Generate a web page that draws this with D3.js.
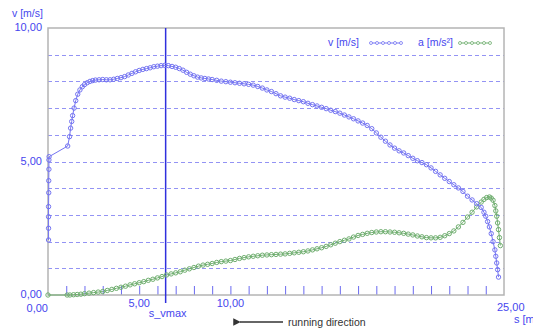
<!DOCTYPE html>
<html>
<head>
<meta charset="utf-8">
<script src="https://cdn.jsdelivr.net/npm/d3@7"></script>
<style>
  body { margin: 0; background: #fff; }
  svg { display: block; font-family: "Liberation Sans", Arial, sans-serif; }
</style>
</head>
<body>
<svg id="chart" width="533" height="331"></svg>
<script>
// v [m/s] over s [m]
const vData = [
    [0.03, 2.06], [0.03, 2.5], [0.03, 2.93], [0.03, 3.31], [0.04, 3.83], [0.04, 4.28], [0.05, 4.71],
    [0.05, 5.06], [0.06, 5.18], [1.08, 5.58], [1.18, 5.93], [1.24, 6.25], [1.3, 6.5], [1.35, 6.72],
    [1.43, 7.0], [1.52, 7.28], [1.63, 7.52], [1.75, 7.68], [1.88, 7.8], [2.0, 7.88], [2.15, 7.95],
    [2.3, 8.0], [2.45, 8.03], [2.6, 8.05], [2.8, 8.06], [3.0, 8.07], [3.2, 8.06], [3.4, 8.06],
    [3.6, 8.08], [3.8, 8.11], [4.0, 8.14], [4.2, 8.18], [4.4, 8.24], [4.6, 8.3], [4.8, 8.36],
    [5.0, 8.41], [5.2, 8.45], [5.4, 8.48], [5.6, 8.51], [5.8, 8.55], [6.0, 8.57], [6.2, 8.59],
    [6.4, 8.6], [6.6, 8.59], [6.8, 8.56], [7.0, 8.53], [7.2, 8.48], [7.4, 8.42], [7.6, 8.34],
    [7.8, 8.27], [8.0, 8.21], [8.2, 8.16], [8.4, 8.13], [8.6, 8.11], [8.8, 8.09], [9.0, 8.07],
    [9.25, 8.04], [9.5, 8.01], [9.75, 7.99], [10.0, 7.97], [10.25, 7.95], [10.5, 7.93], [10.75, 7.91],
    [11.0, 7.89], [11.25, 7.86], [11.5, 7.81], [11.75, 7.75], [12.0, 7.68], [12.25, 7.62], [12.5, 7.54],
    [12.75, 7.46], [13.0, 7.41], [13.25, 7.37], [13.5, 7.32], [13.75, 7.28], [14.0, 7.24], [14.25, 7.18],
    [14.5, 7.13], [14.75, 7.08], [15.0, 7.03], [15.25, 6.98], [15.5, 6.92], [15.75, 6.87], [16.0, 6.81],
    [16.25, 6.74], [16.5, 6.67], [16.75, 6.6], [17.0, 6.52], [17.25, 6.44], [17.5, 6.35], [17.75, 6.23],
    [18.0, 6.07], [18.25, 5.91], [18.5, 5.76], [18.75, 5.62], [19.0, 5.5], [19.25, 5.4], [19.5, 5.32],
    [19.75, 5.22], [20.0, 5.12], [20.25, 5.03], [20.5, 4.96], [20.75, 4.88], [21.0, 4.76], [21.25, 4.63],
    [21.5, 4.5], [21.75, 4.37], [22.0, 4.25], [22.25, 4.13], [22.5, 4.01], [22.75, 3.88], [23.0, 3.7],
    [23.25, 3.56], [23.5, 3.42], [23.75, 3.28], [23.9, 3.1], [24.0, 2.95], [24.1, 2.75], [24.2, 2.55],
    [24.3, 2.3], [24.4, 2.0], [24.5, 1.69], [24.55, 1.45], [24.6, 1.2], [24.65, 0.95], [24.7, 0.67]
];

// a [m/s²] over s [m]
const aData = [
    [0, 0], [1.05, 0], [1.2, 0], [1.4, 0.01], [1.6, 0.02], [1.8, 0.03], [2.0, 0.05], [2.25, 0.07],
    [2.5, 0.09], [2.75, 0.11], [3.0, 0.13], [3.25, 0.17], [3.5, 0.21], [3.75, 0.25], [4.0, 0.29],
    [4.25, 0.33], [4.5, 0.38], [4.75, 0.42], [5.0, 0.46], [5.25, 0.5], [5.5, 0.55], [5.75, 0.59],
    [6.0, 0.64], [6.25, 0.69], [6.5, 0.75], [6.75, 0.79], [7.0, 0.83], [7.25, 0.87], [7.5, 0.93],
    [7.75, 0.98], [8.0, 1.03], [8.25, 1.08], [8.5, 1.12], [8.75, 1.15], [9.0, 1.18], [9.25, 1.22],
    [9.5, 1.25], [9.75, 1.27], [10.0, 1.29], [10.25, 1.33], [10.5, 1.37], [10.75, 1.4], [11.0, 1.43],
    [11.25, 1.45], [11.5, 1.47], [11.75, 1.49], [12.0, 1.5], [12.25, 1.51], [12.5, 1.52], [12.75, 1.53],
    [13.0, 1.54], [13.25, 1.56], [13.5, 1.58], [13.75, 1.6], [14.0, 1.62], [14.25, 1.65], [14.5, 1.69],
    [14.75, 1.73], [15.0, 1.77], [15.25, 1.82], [15.5, 1.88], [15.75, 1.94], [16.0, 2.0], [16.25, 2.05],
    [16.5, 2.1], [16.75, 2.17], [17.0, 2.23], [17.25, 2.27], [17.5, 2.31], [17.75, 2.34], [18.0, 2.36],
    [18.25, 2.37], [18.5, 2.37], [18.75, 2.36], [19.0, 2.35], [19.25, 2.33], [19.5, 2.31], [19.75, 2.28],
    [20.0, 2.25], [20.25, 2.21], [20.5, 2.18], [20.75, 2.15], [21.0, 2.14], [21.25, 2.14], [21.5, 2.16],
    [21.75, 2.22], [22.0, 2.3], [22.25, 2.4], [22.5, 2.55], [22.75, 2.72], [23.0, 2.92], [23.25, 3.1],
    [23.5, 3.3], [23.75, 3.48], [23.9, 3.58], [24.05, 3.65], [24.2, 3.67], [24.3, 3.63], [24.4, 3.55],
    [24.5, 3.35], [24.55, 3.15], [24.6, 2.95], [24.65, 2.7], [24.7, 2.45], [24.75, 2.15], [24.8, 1.85]
];

const sVmax = 6.45;
const gridValues = [1, 2, 3, 4, 5, 6, 7, 8, 9];
const yLabels = [0, 5, 10];
const xLabels = [5, 10];
const minorTicks = d3.range(1, 25);

const blue = '#4646ee';
const vColor = '#7474f2';
const aColor = '#6fae6f';
const frameColor = '#b4b4b4';

const svg = d3.select('#chart');
const plotLeft = 48, plotRight = 504, plotTop = 28, plotBottom = 295;

const x = d3.scaleLinear().domain([0, 25]).range([plotLeft, plotRight]);
const y = d3.scaleLinear().domain([0, 10]).range([plotBottom, plotTop]);
const fmt = (d) => d3.format('.2f')(d).replace('.', ',');

// dashed grid, snapped to the pixel grid so every line looks the same
svg.append('g')
    .selectAll('line')
    .data(gridValues)
    .join('line')
    .attr('x1', plotLeft).attr('x2', plotRight)
    .attr('y1', (d) => Math.round(y(d)) + 0.5).attr('y2', (d) => Math.round(y(d)) + 0.5)
    .attr('stroke', '#9393f4')
    .attr('stroke-dasharray', '4,3')
    .attr('stroke-width', 1);

// minor ticks pointing up from the bottom axis
const tickAxis = svg.append('g')
    .attr('transform', `translate(0,${plotBottom})`)
    .call(d3.axisBottom(x).tickValues(minorTicks).tickSizeInner(-9).tickSizeOuter(0).tickFormat(''));
tickAxis.select('.domain').remove();
tickAxis.selectAll('.tick line').attr('stroke', '#6a6af0');

// frame
svg.append('rect')
    .attr('x', plotLeft).attr('y', plotTop)
    .attr('width', plotRight - plotLeft).attr('height', plotBottom - plotTop)
    .attr('fill', 'none')
    .attr('stroke', frameColor)
    .attr('stroke-width', 1.5);

// s_vmax marker
svg.append('line')
    .attr('x1', x(sVmax)).attr('x2', x(sVmax))
    .attr('y1', plotTop).attr('y2', plotBottom + 8)
    .attr('stroke', '#2f2fdd')
    .attr('stroke-width', 1.5);

const line = d3.line().x((d) => x(d[0])).y((d) => y(d[1]));

function drawSeries(data, color) {
    svg.append('path')
        .datum(data)
        .attr('fill', 'none')
        .attr('stroke', color)
        .attr('stroke-width', 1)
        .attr('d', line);
    svg.append('g')
        .selectAll('circle')
        .data(data)
        .join('circle')
        .attr('cx', (d) => x(d[0]))
        .attr('cy', (d) => y(d[1]))
        .attr('r', 2.2)
        .attr('fill', 'none')
        .attr('stroke', color)
        .attr('stroke-width', 1);
}

drawSeries(aData, aColor);
drawSeries(vData, vColor);

// y labels
svg.append('g')
    .selectAll('text')
    .data(yLabels)
    .join('text')
    .attr('x', 42)
    .attr('y', (d) => y(d) + 3)
    .attr('text-anchor', 'end')
    .attr('font-size', 11)
    .attr('fill', blue)
    .text(fmt);

svg.append('text')
    .attr('x', 12).attr('y', 17)
    .attr('font-size', 10.5)
    .attr('fill', blue)
    .text('v [m/s]');

// x labels
svg.append('g')
    .selectAll('text')
    .data(xLabels)
    .join('text')
    .attr('x', (d) => x(d))
    .attr('y', 307)
    .attr('text-anchor', 'middle')
    .attr('font-size', 11)
    .attr('fill', blue)
    .text(fmt);

svg.append('text')
    .attr('x', x(0)).attr('y', 312)
    .attr('text-anchor', 'end')
    .attr('font-size', 11)
    .attr('fill', blue)
    .text(fmt(0));

svg.append('text')
    .attr('x', x(25) - 7).attr('y', 311)
    .attr('font-size', 11)
    .attr('fill', blue)
    .text(fmt(25));

// cut at the right edge, as in the reference
svg.append('text')
    .attr('x', x(25) + 10).attr('y', 323)
    .attr('font-size', 11)
    .attr('fill', blue)
    .text('s [m]');

svg.append('text')
    .attr('x', x(sVmax) + 2).attr('y', 317)
    .attr('text-anchor', 'middle')
    .attr('font-size', 11)
    .attr('fill', blue)
    .text('s_vmax');

// legend
const legend = [
    { label: 'v [m/s]', color: vColor, tx: 328, mx: 371 },
    { label: 'a [m/s²]', color: aColor, tx: 418, mx: 460 }
];
legend.forEach((l) => {
    svg.append('text')
        .attr('x', l.tx).attr('y', 46)
        .attr('font-size', 10.5)
        .attr('fill', blue)
        .text(l.label);
    svg.append('line')
        .attr('x1', l.mx).attr('x2', l.mx + 30)
        .attr('y1', 43).attr('y2', 43)
        .attr('stroke', l.color);
    svg.append('g')
        .selectAll('circle')
        .data(d3.range(6))
        .join('circle')
        .attr('cx', (i) => l.mx + i * 6)
        .attr('cy', 43)
        .attr('r', 1.5)
        .attr('fill', '#fff')
        .attr('stroke', l.color)
        .attr('stroke-width', 0.8);
});

// running direction arrow
svg.append('defs').append('marker')
    .attr('id', 'arrow')
    .attr('viewBox', '0 0 10 10')
    .attr('refX', 1).attr('refY', 5)
    .attr('markerWidth', 6).attr('markerHeight', 5)
    .attr('orient', 'auto')
    .append('path')
    .attr('d', 'M10,0 L0,5 L10,10 Z')
    .attr('fill', '#333');

svg.append('line')
    .attr('x1', 283).attr('x2', 240)
    .attr('y1', 322).attr('y2', 322)
    .attr('stroke', '#333')
    .attr('stroke-width', 1.5)
    .attr('marker-end', 'url(#arrow)');

svg.append('text')
    .attr('x', 288).attr('y', 325.5)
    .attr('font-size', 10.5)
    .attr('fill', '#333')
    .text('running direction');
</script>
</body>
</html>
